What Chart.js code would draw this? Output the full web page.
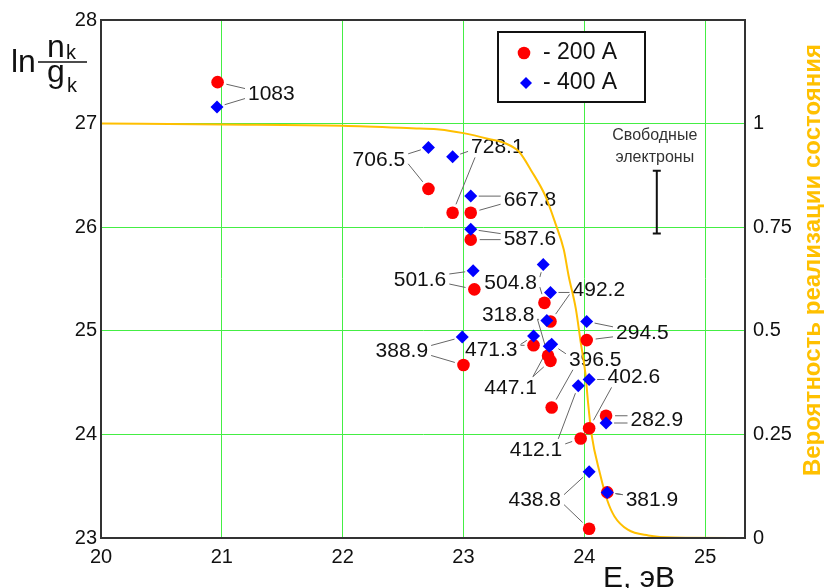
<!DOCTYPE html>
<html lang="ru">
<head>
<meta charset="UTF-8">
<title>ln(n/g) от энергии уровня</title>
<style>
  html, body { margin: 0; padding: 0; background: #fff; }
  #wrap { position: relative; width: 824px; height: 588px; }
</style>
</head>
<body>
<div id="wrap"><canvas id="chart" width="824" height="588"></canvas></div>
<script src="https://cdn.jsdelivr.net/npm/chart.js"></script>
<script>
// длины волн линий (нм), по одной метке на пару точек
const lineNames = ['1083', '706.5', '728.1', '667.8', '587.6', '501.6', '504.8', '492.2', '318.8',
  '471.3', '388.9', '447.1', '396.5', '294.5', '402.6', '412.1', '282.9', '438.8', '381.9'];

// 200 А
const e200  = [20.965, 22.71, 22.91, 23.06, 23.06, 23.09, 23.67, 23.72, 23.70,
  23.58, 23.00, 23.72, 23.73, 24.02, 24.04, 23.97, 24.18, 24.04, 24.19];
const ln200 = [27.40, 26.37, 26.14, 26.14, 25.88, 25.40, 25.27, 25.09, 24.76,
  24.86, 24.67, 24.71, 24.26, 24.91, 24.06, 23.96, 24.18, 23.09, 23.44];

// 400 А
const e400  = [20.96, 22.71, 22.91, 23.06, 23.06, 23.08, 23.66, 23.72, 23.69,
  23.58, 22.99, 23.71, 23.73, 24.02, 24.04, 23.95, 24.18, 24.04, 24.19];
const ln400 = [27.16, 26.77, 26.68, 26.30, 25.98, 25.58, 25.64, 25.37, 25.10,
  24.95, 24.94, 24.85, 24.87, 25.09, 24.53, 24.47, 24.11, 23.64, 23.44];

// вероятность реализации состояния (правая ось)
const curveE = [20.0, 21.0, 22.0, 22.64, 22.8, 23.0, 23.21, 23.35, 23.46, 23.56, 23.68, 23.76, 23.83,
  23.87, 23.93, 23.97, 24.01, 24.03, 24.06, 24.13, 24.19, 24.25, 24.36, 24.53, 24.75, 25.33];
const curveP = [1.0, 0.998, 0.995, 0.988, 0.986, 0.977, 0.963, 0.952, 0.932, 0.887, 0.824, 0.76, 0.696,
  0.633, 0.553, 0.473, 0.395, 0.33, 0.25, 0.155, 0.091, 0.052, 0.02, 0.006, 0.001, 0.0];

// свободные электроны
const freeE = 24.60;
const freeRange = [25.94, 26.545];

const xTicks = [20, 21, 22, 23, 24, 25];
const yTicks = [23, 24, 25, 26, 27, 28];
const pTicks = [0, 0.25, 0.5, 0.75, 1];

// где стоят подписи (центр текста) и с какой стороны идут выноски [к красной, к синей]
const labelAt = [
  [21.41, 27.29, 'l', 'l'], [22.30, 26.66, 'r', 'r'], [23.28, 26.78, 'b', 'l'], [23.55, 26.27, 'l', 'l'],
  [23.55, 25.89, 'l', 'l'], [22.64, 25.50, 'r', 'r'], [23.39, 25.47, 'r', 'r'], [24.12, 25.40, 'l', 'l'],
  [23.37, 25.16, 'r', 'r'], [23.23, 24.82, 'r', 'r'], [22.49, 24.81, 'r', 'r'], [23.39, 24.46, 't', 't'],
  [24.09, 24.73, 'b', 'l'], [24.48, 24.99, 'l', 'l'], [24.41, 24.56, 'b', 'l'], [23.60, 23.86, 'r', 't'],
  [24.60, 24.15, 'l', 'l'], [23.59, 23.37, 'r', 'r'], [24.56, 23.37, 'l', 'l']
];

const FONT = '"Liberation Sans", Arial, sans-serif';
Chart.defaults.font.family = FONT;
Chart.defaults.color = '#111';

const clamp = (v, a, b) => Math.max(a, Math.min(b, v));

function anchor(side, box, tx, ty) {
  if (side === 'l') return [box.x0 - 3, box.cy + clamp(ty - box.cy, -5, 5)];
  if (side === 'r') return [box.x1 + 3, box.cy + clamp(ty - box.cy, -5, 5)];
  const ax = box.cx + clamp(tx - box.cx, -box.w / 2 + 4, box.w / 2 - 4);
  return side === 't' ? [ax, box.y0 - 2] : [ax, box.y1 + 2];
}

function leader(ctx, a, tx, ty, r) {
  const dx = tx - a[0], dy = ty - a[1];
  const len = Math.hypot(dx, dy);
  if (len < r + 4) return;
  const k = (len - r - 3) / len;
  ctx.beginPath();
  ctx.moveTo(a[0], a[1]);
  ctx.lineTo(a[0] + dx * k, a[1] + dy * k);
  ctx.stroke();
}

const annotations = {
  id: 'annotations',
  beforeDatasetsDraw(chart) {
    const { ctx, scales: { x, y } } = chart;
    ctx.save();
    ctx.font = '21px ' + FONT;
    ctx.textAlign = 'center';
    ctx.textBaseline = 'middle';
    ctx.strokeStyle = '#666';
    ctx.lineWidth = 1;
    lineNames.forEach((name, i) => {
      const [lx, ly, sideR, sideB] = labelAt[i];
      const cx = x.getPixelForValue(lx), cy = y.getPixelForValue(ly);
      const w = ctx.measureText(name).width;
      const box = { cx, cy, w, x0: cx - w / 2, x1: cx + w / 2, y0: cy - 8, y1: cy + 9 };
      const rx = x.getPixelForValue(e200[i]), ry = y.getPixelForValue(ln200[i]);
      const bx = x.getPixelForValue(e400[i]), by = y.getPixelForValue(ln400[i]);
      leader(ctx, anchor(sideR, box, rx, ry), rx, ry, 6);
      leader(ctx, anchor(sideB, box, bx, by), bx, by, 5);
      ctx.fillStyle = '#111';
      ctx.fillText(name, cx, cy + 1);
    });

    // свободные электроны
    const ex = x.getPixelForValue(freeE);
    const e0 = y.getPixelForValue(freeRange[0]), e1 = y.getPixelForValue(freeRange[1]);
    ctx.strokeStyle = '#111';
    ctx.lineWidth = 2;
    ctx.beginPath();
    ctx.moveTo(ex, e0); ctx.lineTo(ex, e1);
    ctx.moveTo(ex - 4, e0); ctx.lineTo(ex + 4, e0);
    ctx.moveTo(ex - 4, e1); ctx.lineTo(ex + 4, e1);
    ctx.stroke();
    ctx.fillStyle = '#333';
    ctx.font = '16px ' + FONT;
    ctx.fillText('Свободные', ex - 2, e1 - 35);
    ctx.fillText('электроны', ex - 2, e1 - 13);
    ctx.restore();
  },
  afterDraw(chart) {
    const { ctx, chartArea: a } = chart;
    ctx.save();
    // рамка
    ctx.strokeStyle = '#333';
    ctx.lineWidth = 2;
    ctx.strokeRect(a.left, a.top, a.right - a.left, a.bottom - a.top);

    // легенда
    ctx.strokeStyle = '#111';
    ctx.fillStyle = '#fff';
    ctx.fillRect(498, 32, 147, 70);
    ctx.strokeRect(498, 32, 147, 70);
    ctx.fillStyle = '#ff0000';
    ctx.beginPath(); ctx.arc(524, 53, 6.3, 0, Math.PI * 2); ctx.fill();
    ctx.fillStyle = '#0000ff';
    ctx.beginPath();
    ctx.moveTo(526, 77); ctx.lineTo(532, 83); ctx.lineTo(526, 89); ctx.lineTo(520, 83);
    ctx.closePath(); ctx.fill();
    ctx.fillStyle = '#111';
    ctx.font = '23px ' + FONT;
    ctx.textAlign = 'left';
    ctx.textBaseline = 'middle';
    ctx.fillText('- 200 А', 543, 53);
    ctx.fillText('- 400 А', 543, 83);

    // подпись левой оси: ln n_k / g_k
    ctx.textBaseline = 'alphabetic';
    ctx.font = '32px ' + FONT;
    ctx.fillText('ln', 11, 72);
    ctx.fillText('n', 47, 57);
    ctx.fillText('g', 47, 82);
    ctx.font = '20px ' + FONT;
    ctx.fillText('k', 66, 59);
    ctx.fillText('k', 67, 92);
    ctx.lineWidth = 1.5;
    ctx.beginPath(); ctx.moveTo(38, 62); ctx.lineTo(87, 62); ctx.stroke();

    // подпись оси X
    ctx.font = '30px ' + FONT;
    ctx.fillText('E, эВ', 603, 587);

    // подпись правой оси
    ctx.translate(813, 260);
    ctx.rotate(-Math.PI / 2);
    ctx.textAlign = 'center';
    ctx.textBaseline = 'middle';
    ctx.fillStyle = '#ffc000';
    ctx.font = 'bold 24px ' + FONT;
    ctx.fillText('Вероятность реализации состояния', 0, 0);
    ctx.restore();
  }
};

new Chart(document.getElementById('chart'), {
  type: 'scatter',
  data: {
    datasets: [
      {
        label: '400 А',
        data: e400.map((v, i) => ({ x: v, y: ln400[i] })),
        pointStyle: 'rectRot', pointRadius: 6.5,
        backgroundColor: '#0000ff', borderWidth: 0, order: 0
      },
      {
        label: '200 А',
        data: e200.map((v, i) => ({ x: v, y: ln200[i] })),
        pointStyle: 'circle', pointRadius: 6.3,
        backgroundColor: '#ff0000', borderWidth: 0, order: 1
      },
      {
        type: 'line',
        label: 'Вероятность реализации состояния',
        data: curveE.map((v, i) => ({ x: v, y: curveP[i] })),
        yAxisID: 'y1',
        borderColor: '#ffbf00', borderWidth: 2,
        pointRadius: 0, fill: false,
        cubicInterpolationMode: 'monotone', order: 2
      }
    ]
  },
  options: {
    responsive: false,
    animation: false,
    layout: { padding: { top: 15, left: 0, right: 0, bottom: 0 } },
    plugins: { legend: { display: false }, tooltip: { enabled: false } },
    scales: {
      x: {
        type: 'linear', min: 20, max: 25.33,
        afterBuildTicks: s => { s.ticks = xTicks.map(v => ({ value: v })); },
        afterFit: s => { s.height = 50; },
        grid: { color: '#44ee44', lineWidth: 1, drawTicks: false },
        border: { color: '#333', width: 2 },
        ticks: { padding: 7, font: { size: 20 }, callback: v => String(v) }
      },
      y: {
        type: 'linear', position: 'left', min: 23, max: 28,
        afterBuildTicks: s => { s.ticks = yTicks.map(v => ({ value: v })); },
        afterFit: s => { s.width = 101; },
        grid: { color: '#44ee44', lineWidth: 1, drawTicks: false },
        border: { color: '#333', width: 2 },
        ticks: { padding: 4, font: { size: 20 }, callback: v => String(v) }
      },
      y1: {
        type: 'linear', position: 'right', min: 0, max: 1.25,
        afterBuildTicks: s => { s.ticks = pTicks.map(v => ({ value: v })); },
        afterFit: s => { s.width = 79; },
        grid: { display: false, drawTicks: false },
        border: { color: '#333', width: 2 },
        ticks: { padding: 8, font: { size: 20 }, callback: v => String(v) }
      }
    }
  },
  plugins: [annotations]
});
</script>
</body>
</html>
